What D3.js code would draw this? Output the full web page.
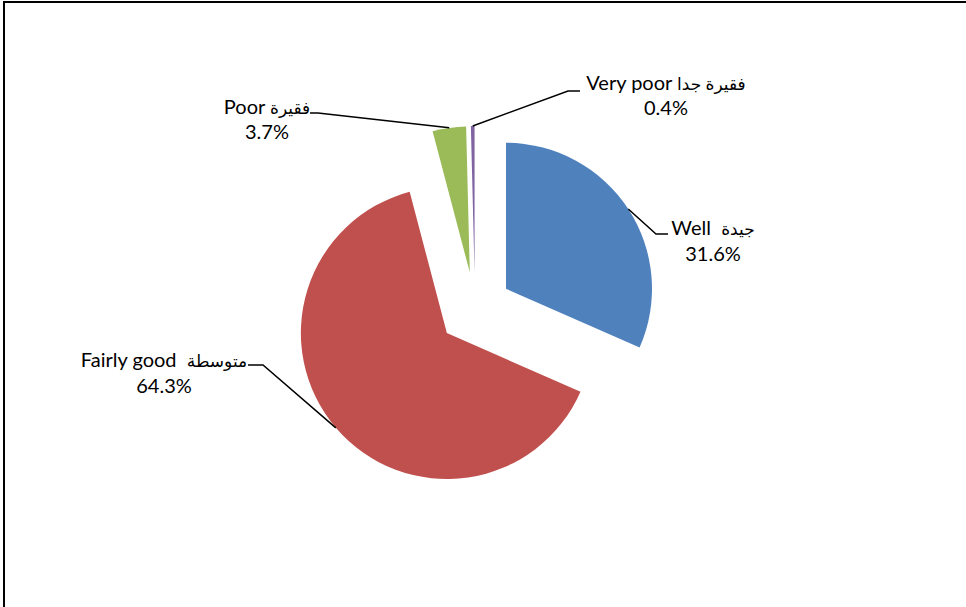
<!DOCTYPE html>
<html>
<head>
<meta charset="utf-8">
<script src="https://cdn.jsdelivr.net/npm/d3@7"></script>
<style>
  html, body { margin: 0; padding: 0; background: #fff; }
  svg { display: block; }
  text { font-family: Lato, "DejaVu Sans", sans-serif; fill: #000; white-space: pre; }
</style>
</head>
<body>
<svg id="chart" width="966" height="607"></svg>
<script>
// ---- data ----
const englishNames = ["Well", "Fairly good", "Poor", "Very poor"];
const arabicNames  = ["جيدة", "متوسطة", "فقيرة", "فقيرة جدا"];
const values       = [31.6, 64.3, 3.7, 0.4];
const colors       = ["#4F81BD", "#C0504D", "#9BBB59", "#8064A2"];

// ---- layout (positions of labels / leader elbows) ----
const labelPos = [
  { x: 713, y1: 235, y2: 261, elbow: [656, 234], end: [668, 234], sep: "  " },
  { x: 164, y1: 367, y2: 393, elbow: [263, 365], end: [248, 365], sep: "  " },
  { x: 267, y1: 114, y2: 139, elbow: [318, 113], end: [310, 113], sep: " " },
  { x: 666, y1: 90,  y2: 115, elbow: [568, 91],  end: [580, 91],  sep: " " }
];

const W = 966, H = 607;
const cx = 475, cy = 309, R = 146, explode = 37;

const svg = d3.select("#chart");

// border
svg.append("path")
  .attr("d", `M4,${H} V2 H${W}`)
  .attr("fill", "none").attr("stroke", "#000").attr("stroke-width", 2);

const pie = d3.pie().sort(null).value(d => d);
const arcs = pie(values);
const arc = d3.arc().innerRadius(0).outerRadius(R);

const g = svg.append("g").attr("transform", `translate(${cx},${cy})`);

arcs.forEach((a, i) => {
  const mid = (a.startAngle + a.endAngle) / 2;
  const dx = explode * Math.sin(mid), dy = -explode * Math.cos(mid);
  g.append("path")
    .attr("d", arc(a))
    .attr("transform", `translate(${dx},${dy})`)
    .attr("fill", colors[i]);

  // leader line from outer arc midpoint
  const sx = cx + dx + R * Math.sin(mid);
  const sy = cy + dy - R * Math.cos(mid);
  const L = labelPos[i];
  svg.append("polyline")
    .attr("points", `${sx},${sy} ${L.elbow[0]},${L.elbow[1]} ${L.end[0]},${L.end[1]}`)
    .attr("fill", "none").attr("stroke", "#000").attr("stroke-width", 1.5);

  const t = svg.append("text")
    .attr("x", L.x).attr("y", L.y1)
    .attr("text-anchor", "middle")
    .attr("font-size", 20)
    .attr("direction", "ltr");
  t.append("tspan").text(englishNames[i] + L.sep);
  t.append("tspan").attr("font-size", 17).text(arabicNames[i]);

  svg.append("text")
    .attr("x", L.x).attr("y", L.y2)
    .attr("text-anchor", "middle")
    .attr("font-size", 20)
    .text(values[i].toFixed(1) + "%");
});
</script>
</body>
</html>
